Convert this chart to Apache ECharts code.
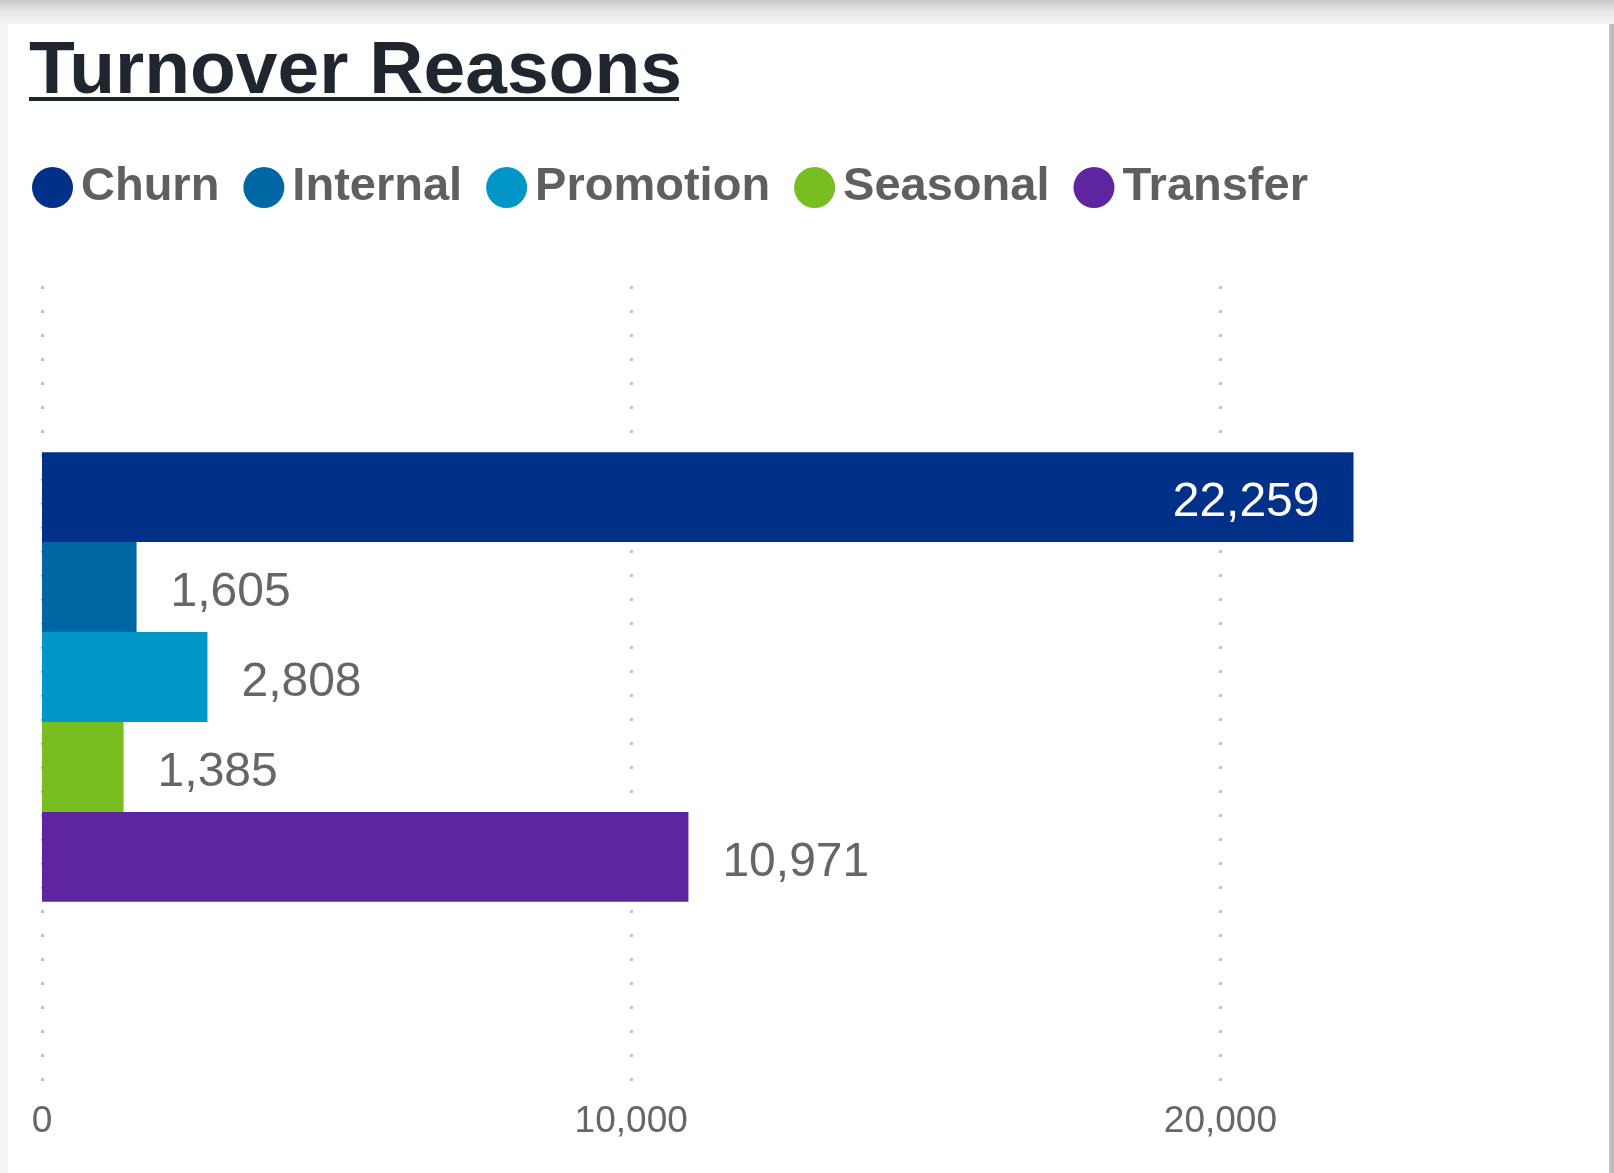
<!DOCTYPE html>
<html>
<head>
<meta charset="utf-8">
<script src="https://cdn.jsdelivr.net/npm/echarts@6/dist/echarts.min.js"></script>
<style>
  html, body { margin: 0; padding: 0; width: 1614px; height: 1173px; overflow: hidden; background: #f4f4f4; }
  #topbar { position: absolute; left: 0; top: 0; width: 1614px; height: 24px;
    background: linear-gradient(to bottom, #c6c6c6 0%, #e6e6e6 45%, #f4f4f4 100%); }
  #card { position: absolute; left: 8px; top: 24px; width: 1601px; height: 1149px; background: #ffffff; }
  #rightbar { position: absolute; left: 1609px; top: 24px; width: 5px; height: 1149px;
    background: linear-gradient(to right, #c8c8c8, #b4b4b4); }
  #chart { position: absolute; left: 0; top: 0; width: 1614px; height: 1173px; }
</style>
</head>
<body>
<div id="topbar"></div>
<div id="card"></div>
<div id="rightbar"></div>
<div id="chart"></div>
<script>
const categories = ['Turnover'];
const seriesNames = ['Churn', 'Internal', 'Promotion', 'Seasonal', 'Transfer'];
const seriesValues = [22259, 1605, 2808, 1385, 10971];
const seriesColors = ['#003087', '#0067a5', '#0096c8', '#78be20', '#5f249f'];
const xTicks = [0, 10000, 20000];
const xMax = 25000;

const fmt = v => Number(v).toLocaleString('en-US');
const FONT = "'Liberation Sans', Arial, sans-serif";

const chart = echarts.init(document.getElementById('chart'), null, { renderer: 'canvas' });

const series = seriesNames.map((name, i) => ({
  name: name,
  type: 'bar',
  xAxisIndex: 0,
  yAxisIndex: 0,
  data: [seriesValues[i]],
  barGap: '0%',
  barCategoryGap: '43.8%',
  itemStyle: { color: seriesColors[i] },
  label: {
    show: true,
    position: i === 0 ? 'insideRight' : 'right',
    distance: 34,
    offset: [0, 6],
    color: i === 0 ? '#ffffff' : '#666666',
    fontSize: 48,
    fontFamily: FONT,
    formatter: p => fmt(p.value)
  },
  emphasis: { disabled: true }
}));

chart.setOption({
  animation: false,
  backgroundColor: 'transparent',
  textStyle: { fontFamily: FONT },
  title: {
    text: 'Turnover Reasons',
    left: 29,
    top: 35,
    padding: 0,
    textStyle: { fontSize: 75, fontWeight: 'bold', color: '#1f2630', fontFamily: FONT }
  },
  graphic: [{
    type: 'rect',
    shape: { x: 29, y: 97, width: 650, height: 4 },
    style: { fill: '#1f2630' },
    silent: true
  }],
  legend: {
    data: seriesNames,
    left: 32,
    top: 164,
    padding: 0,
    icon: 'circle',
    itemWidth: 41,
    itemHeight: 41,
    itemGap: 24,
    selectedMode: false,
    textStyle: { fontSize: 47, fontWeight: 'bold', color: '#5f5f5f', fontFamily: FONT, padding: [0, 0, 0, 3] }
  },
  grid: [
    { left: 42, right: 99, top: 277, bottom: 96, containLabel: false },
    { left: 42, right: 99, top: 283, bottom: 90, containLabel: false }
  ],
  xAxis: [
    {
      type: 'value', gridIndex: 0,
      min: xTicks[0], max: xMax, interval: xTicks[1] - xTicks[0],
      axisLine: { show: false }, axisTick: { show: false },
      axisLabel: { show: false }, splitLine: { show: false }
    },
    {
      type: 'value', gridIndex: 1,
      min: xTicks[0], max: xMax, interval: xTicks[1] - xTicks[0],
      axisLine: { show: false },
      axisTick: { show: false },
      axisLabel: {
        fontSize: 37, color: '#666666', fontFamily: FONT, margin: 20,
        showMaxLabel: false,
        formatter: v => xTicks.indexOf(v) >= 0 ? fmt(v) : ''
      },
      splitLine: {
        show: true,
        showMaxLine: false,
        lineStyle: { color: '#c4c4c4', width: 3, type: [3, 21], dashOffset: 21 }
      }
    }
  ],
  yAxis: [
    {
      type: 'category', gridIndex: 0, data: categories,
      axisLine: { show: false }, axisTick: { show: false },
      axisLabel: { show: false }, splitLine: { show: false }
    },
    {
      type: 'category', gridIndex: 1, data: categories,
      axisLine: { show: false }, axisTick: { show: false },
      axisLabel: { show: false }, splitLine: { show: false }
    }
  ],
  series: series
});
</script>
</body>
</html>
